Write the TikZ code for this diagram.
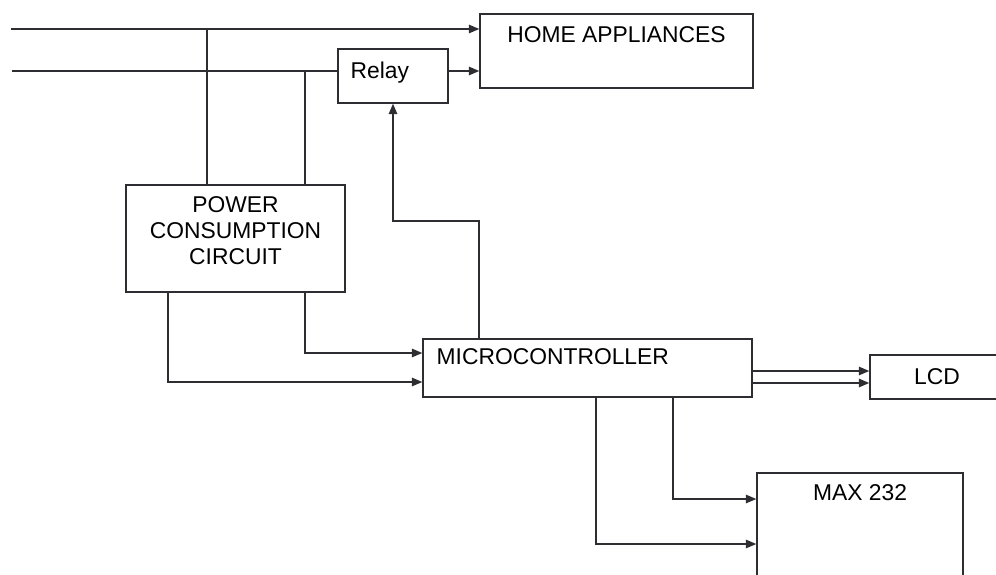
\documentclass[tikz,border=0pt]{standalone}
\usepackage{fontspec}
\setmainfont{Liberation Sans}
\usetikzlibrary{arrows.meta,positioning,calc}
\definecolor{wire}{RGB}{45,45,50}

\begin{document}
\begin{tikzpicture}[
    x=0.02cm,y=-0.02cm,
    box/.style={draw=wire,line width=0.8pt,inner sep=0pt},
    txt/.style={inner sep=0pt,font=\fontsize{13}{14.8}\selectfont,align=center},
    arr/.style={-{Triangle[length=0.21cm,width=0.17cm]},wire,line width=0.8pt},
    wir/.style={wire,line width=0.8pt},
  ]
  \useasboundingbox (0,0) rectangle (996,574);
  \clip (0,0) rectangle (996,574);
  % blocks
  \node[box,minimum width=5.46cm,minimum height=1.48cm](home) at (616.5,51) {};
  \node[txt,below=0.26cm of home.north](homeT){HOME APPLIANCES};
  \node[box,minimum width=2.2cm,minimum height=1.08cm](relay) at (393,76) {};
  \node[txt,below right=0.26cm and 0.26cm of relay.north west](relayT){Relay};
  \node[box,minimum width=4.38cm,minimum height=2.14cm](pcc) at (235.5,238.5) {};
  \node[txt,below=0.24cm of pcc.north](pccT){POWER\\CONSUMPTION\\CIRCUIT};
  \node[box,minimum width=6.58cm,minimum height=1.16cm](mc) at (587.5,368) {};
  \node[txt,below right=0.2cm and 0.28cm of mc.north west](mcT){MICROCONTROLLER};
  \node[box,txt,minimum width=2.68cm,minimum height=0.88cm](lcd) at (937,377) {LCD};
  \node[box,minimum width=4.12cm,minimum height=2.54cm](max) at (860,536.5) {};
  \node[txt,below=0.24cm of max.north](maxT){MAX 232};
  % mains lines
  \coordinate (mainA) at (11,29);
  \coordinate (mainB) at (12,71);
  \draw[arr](mainA) -- (home.west |- mainA);
  \draw[wir](mainB) -- (relay.west |- mainB);
  \draw[arr](relay.east |- mainB) -- (home.west |- mainB);
  \draw[wir](mainA -| 207,0) -- (pcc.north -| 207,0);
  \draw[wir](mainB -| 305,0) -- (pcc.north -| 305,0);
  % signals
  \draw[arr](pcc.south -| 305,0) |- (mc.west |- 0,353);
  \draw[arr](pcc.south -| 168,0) |- (mc.west |- 0,382);
  \draw[arr](mc.north -| 479,0) |- (relay.south |- 0,221) -- (relay.south);
  \draw[arr](mc.east |- 0,371) -- (lcd.west |- 0,371);
  \draw[arr](mc.east |- 0,383) -- (lcd.west |- 0,383);
  \draw[arr](mc.south -| 673,0) |- (max.west |- 0,499);
  \draw[arr](mc.south -| 596,0) |- (max.west |- 0,544);
\end{tikzpicture}
\end{document}
